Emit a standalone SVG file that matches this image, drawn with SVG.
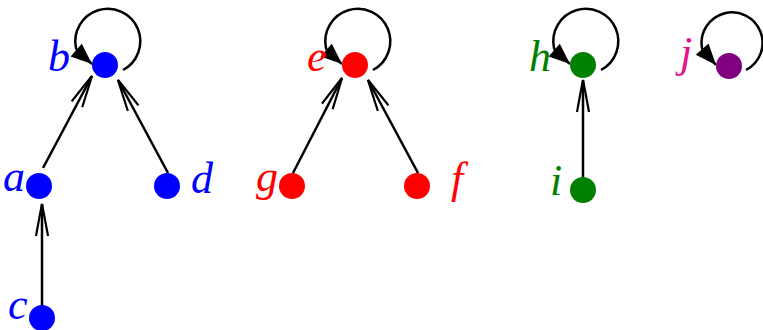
<svg xmlns="http://www.w3.org/2000/svg" width="763" height="330" viewBox="0 0 763 330">
<style>
.lbl{font-family:"Liberation Serif","DejaVu Serif",serif;font-style:italic;font-size:44px}
.edge{fill:none;stroke:#000;stroke-width:2.5;marker-end:url(#open)}
.loop{fill:none;stroke:#000;stroke-width:2.5;marker-end:url(#tri)}
.blue{fill:#0000ff}.red{fill:#ff0000}.green{fill:#008000}.purple{fill:#800080}.pink{fill:#e6148c}
</style>
<defs>
<marker id="open" markerUnits="userSpaceOnUse" viewBox="-34 -8 36 16" refX="0" refY="0" markerWidth="36" markerHeight="16" orient="auto" overflow="visible">
<path d="M -32 -6 Q -10 -2 0 0 Q -10 2 -32 6" fill="none" stroke="#000" stroke-width="2.2"/>
</marker>
<marker id="tri" markerUnits="userSpaceOnUse" viewBox="-23 -10 25 20" refX="0" refY="0" markerWidth="25" markerHeight="20" orient="auto" overflow="visible">
<path d="M -21 -8.5 L 0 0 L -21 8.5 z" fill="#000"/>
</marker>
</defs>
<g id="connectors">
<path class="loop" d="M 123 70 A 32.5 32.5 0 1 0 76 48 C 77 53 84 57 92 64"/>
<path class="edge" d="M 43 168 L 92 76"/>
<path class="edge" d="M 168 173 L 118 80"/>
<path class="edge" d="M 42 306 L 42 204"/>
<path class="loop" d="M 373 70 A 32.5 32.5 0 1 0 326 48 C 327 53 334 57 342 64"/>
<path class="edge" d="M 293 173 L 342 78"/>
<path class="edge" d="M 418 173 L 368 80"/>
<path class="loop" d="M 601 70 A 32.5 32.5 0 1 0 554 48 C 555 53 562 57 570 64"/>
<path class="edge" d="M 583 178 L 583 80"/>
<path class="loop" d="M 746 70 A 30.5 30.5 0 1 0 702 48 C 703 53 709 57 716 65"/>
</g>
<g id="node-a"><circle class="blue" cx="39" cy="186" r="13"/><text class="lbl blue" x="3" y="191">a</text></g>
<g id="node-b"><circle class="blue" cx="105" cy="65" r="13"/><text class="lbl blue" x="48" y="71">b</text></g>
<g id="node-c"><circle class="blue" cx="42" cy="318" r="13"/><text class="lbl blue" x="8" y="319">c</text></g>
<g id="node-d"><circle class="blue" cx="167" cy="186" r="13"/><text class="lbl blue" x="191" y="193">d</text></g>
<g id="node-e"><circle class="red" cx="355" cy="65" r="13"/><text class="lbl red" x="307" y="71">e</text></g>
<g id="node-f"><circle class="red" cx="417" cy="186" r="13"/><text class="lbl red" x="451" y="193">f</text></g>
<g id="node-g"><circle class="red" cx="292" cy="186" r="13"/><text class="lbl red" x="256" y="191">g</text></g>
<g id="node-h"><circle class="green" cx="583" cy="65" r="13"/><text class="lbl green" x="529" y="71">h</text></g>
<g id="node-i"><circle class="green" cx="583" cy="190" r="13"/><text class="lbl green" x="550" y="195">i</text></g>
<g id="node-j"><circle class="purple" cx="729" cy="66" r="13"/><text class="lbl pink" x="680" y="67">j</text></g>
</svg>
